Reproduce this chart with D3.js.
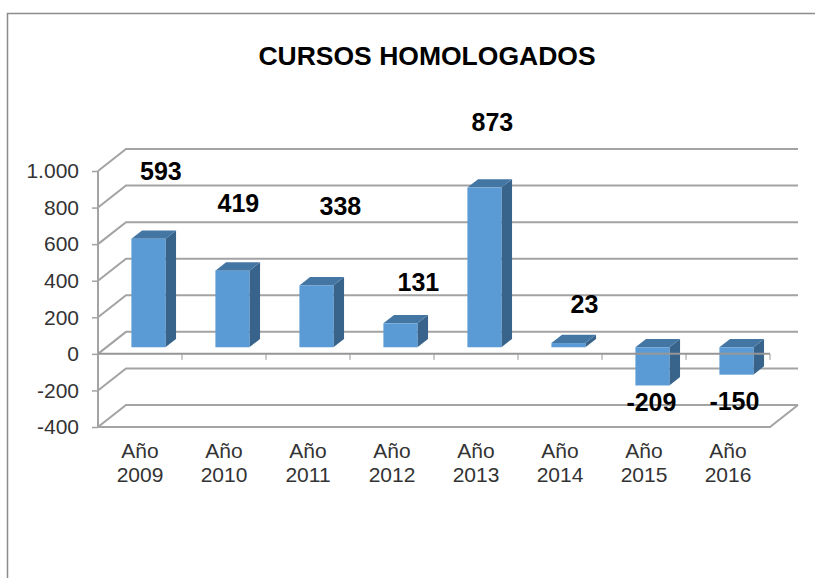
<!DOCTYPE html>
<html>
<head>
<meta charset="utf-8">
<style>
html, body { margin: 0; padding: 0; background: #fff; }
svg { display: block; }
text { font-family: "Liberation Sans", Arial, sans-serif; }
</style>
<script src="https://d3js.org/d3.v7.min.js"></script>
</head>
<body>
<div id="run"></div>
<script>
var chartTitle = "CURSOS HOMOLOGADOS";
var categories = ["Año 2009", "Año 2010", "Año 2011", "Año 2012", "Año 2013", "Año 2014", "Año 2015", "Año 2016"];
var values = [593, 419, 338, 131, 873, 23, -209, -150];
var yTicks = [-400, -200, 0, 200, 400, 600, 800, 1000];

var width = 815,
    height = 578;

// the labels were dragged by hand in the original, so each has its own nudge
var labelNudgeX = [12.5, 6, 24, 18, 8, 16, -1, -2];
var labelNudgeY = [-67.5, -67.5, -79.5, -41, -66, -39, 17, 26];

var gridColor = "#a3a3a3",
    frameColor = "#8c8c8c",
    textColor = "#333";

// 3d box: wall is pushed back by depth, bars sit part way in
var depth = {x: 28, y: -22};
var barFront = 0.3,
    barDepth = 0.38;

var y = d3.scaleLinear().domain([-400, 1000]).range([427, 171]);
var x = d3.scaleBand().domain(categories).range([98, 770]);
var barW = 34;

var esLocale = d3.formatLocale({decimal: ",", thousands: ".", grouping: [3], currency: ["", ""], minus: "-"});

var svg = d3.select("#run").append("svg")
    .attr("width", width)
    .attr("height", height);

svg.append("rect")
    .attr("width", width)
    .attr("height", height)
    .attr("fill", "#fff");

// outer frame, only top and left are inside the picture
svg.append("path")
    .attr("d", "M7.5," + height + "V13.5H" + width)
    .attr("fill", "none")
    .attr("stroke", frameColor)
    .attr("stroke-width", 1.5);

svg.append("text")
    .attr("x", 427)
    .attr("y", 65)
    .attr("text-anchor", "middle")
    .attr("font-size", 26.5)
    .attr("font-weight", "bold")
    .attr("fill", "#000")
    .text(chartTitle);

// back wall and left wall grid
var x0 = x.range()[0],
    x1 = x.range()[1];

var grid = svg.append("g")
    .attr("fill", "none")
    .attr("stroke", gridColor)
    .attr("stroke-width", 2);

grid.selectAll("path")
    .data(yTicks)
    .enter().append("path")
    .attr("d", function(d) {
        return "M" + x0 + "," + y(d) + "l" + depth.x + "," + depth.y + "H" + (x1 + depth.x);
    });

// floor
grid.append("path")
    .attr("d", "M" + x0 + "," + y(-400) + "H" + x1 + "l" + depth.x + "," + depth.y);

// bars
function barLeft(d) {
    return x(d.cat) + (x.step() - barW) / 2 + depth.x * barFront;
}
function barTop(d) {
    return y(Math.max(d.val, 0)) + depth.y * barFront;
}
function barBottom(d) {
    return y(Math.min(d.val, 0)) + depth.y * barFront;
}

var rows = categories.map(function(c, i) {
    return {cat: c, val: values[i], i: i};
});

var dx = depth.x * barDepth,
    dy = depth.y * barDepth;

var bars = svg.append("g").selectAll("g")
    .data(rows)
    .enter().append("g");

bars.append("path")
    .attr("fill", "#38648c")
    .attr("d", function(d) {
        var r = barLeft(d) + barW;
        return "M" + r + "," + barTop(d) + "l" + dx + "," + dy + "V" + (barBottom(d) + dy) + "l" + (-dx) + "," + (-dy) + "Z";
    });

bars.append("path")
    .attr("fill", "#4476a4")
    .attr("d", function(d) {
        var l = barLeft(d);
        return "M" + l + "," + barTop(d) + "l" + dx + "," + dy + "h" + barW + "l" + (-dx) + "," + (-dy) + "Z";
    });

bars.append("rect")
    .attr("fill", "#5b9bd5")
    .attr("x", barLeft)
    .attr("y", barTop)
    .attr("width", barW)
    .attr("height", function(d) { return barBottom(d) - barTop(d); });

// y axis
var yAxis = d3.axisLeft(y)
    .tickValues(yTicks)
    .tickFormat(esLocale.format(",d"))
    .tickSize(6)
    .tickPadding(13);

var yG = svg.append("g")
    .attr("transform", "translate(" + x0 + ",0)")
    .call(yAxis);

yG.select(".domain")
    .attr("d", "M0," + y(1000) + "V" + y(-400))
    .attr("stroke", gridColor)
    .attr("stroke-width", 2);
yG.selectAll("line")
    .attr("stroke", gridColor)
    .attr("stroke-width", 1.5);
yG.selectAll("text")
    .attr("font-size", 21)
    .attr("fill", textColor)
    .attr("font-family", "'Liberation Sans', Arial, sans-serif");

// category axis on the zero line, ticks between the bars
var zero = svg.append("g")
    .attr("stroke", "#969696");

zero.append("line")
    .attr("x1", x0).attr("x2", x1)
    .attr("y1", y(0)).attr("y2", y(0))
    .attr("stroke-width", 2);

zero.selectAll(".tk")
    .data(categories)
    .enter().append("line")
    .attr("class", "tk")
    .attr("x1", function(d) { return x(d) + x.step(); })
    .attr("x2", function(d) { return x(d) + x.step(); })
    .attr("y1", y(0))
    .attr("y2", y(0) + 6)
    .attr("stroke-width", 1);

// category labels, two lines each
var catLabels = svg.append("g").selectAll("text")
    .data(categories)
    .enter().append("text")
    .attr("text-anchor", "middle")
    .attr("font-size", 21)
    .attr("fill", textColor);

catLabels.selectAll("tspan")
    .data(function(d) {
        return d.split(" ").map(function(s) { return {s: s, c: d}; });
    })
    .enter().append("tspan")
    .attr("x", function(d) { return x(d.c) + x.step() / 2; })
    .attr("y", function(d, i) { return 458 + i * 24; })
    .text(function(d) { return d.s; });

// data labels
svg.append("g").selectAll("text")
    .data(rows)
    .enter().append("text")
    .attr("text-anchor", "middle")
    .attr("dominant-baseline", "central")
    .attr("font-size", 25)
    .attr("font-weight", "bold")
    .attr("fill", "#000")
    .attr("x", function(d) { return barLeft(d) + barW / 2 + labelNudgeX[d.i]; })
    .attr("y", function(d) { return (d.val < 0 ? barBottom(d) : barTop(d)) + labelNudgeY[d.i]; })
    .text(function(d) { return d.val; });
</script>
</body>
</html>
